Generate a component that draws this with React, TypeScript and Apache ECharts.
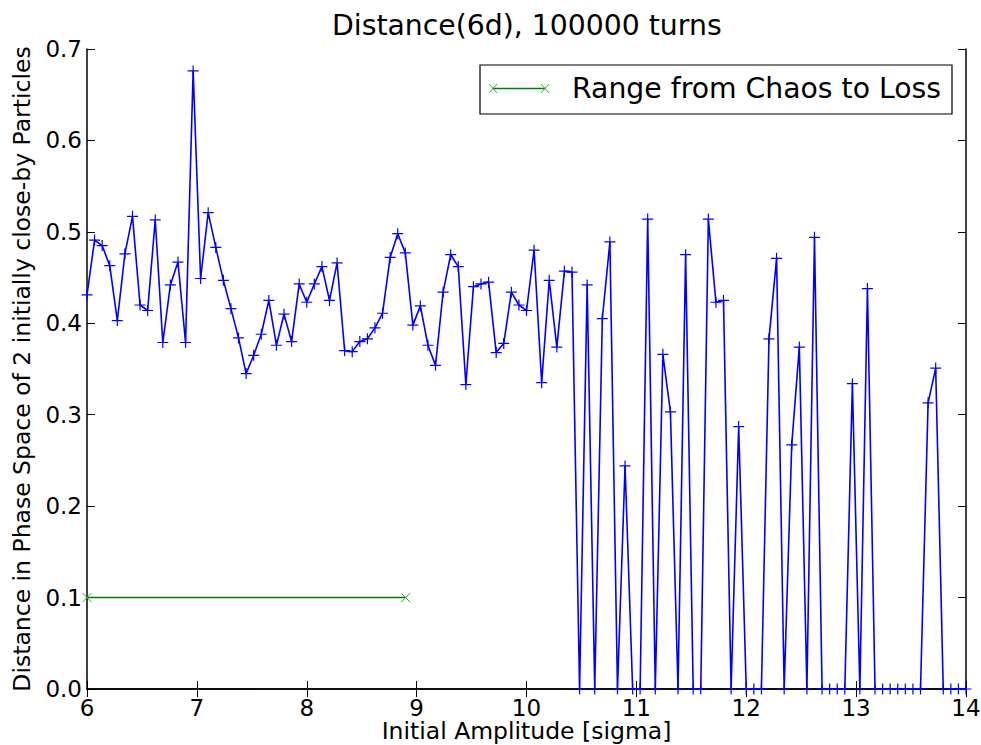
import React, { useEffect, useRef } from "react";
import * as echarts from "echarts";

const TITLE = "Distance(6d), 100000 turns";
const X_NAME = "Initial Amplitude [sigma]";
const Y_NAME = "Distance in Phase Space of 2 initially close-by Particles";
const LEGEND_LABEL = "Range from Chaos to Loss";

const amplitudes = [
  6.0, 6.069, 6.138, 6.207, 6.276, 6.345, 6.414, 6.483, 6.552, 6.621,
  6.69, 6.759, 6.828, 6.897, 6.966, 7.034, 7.103, 7.172, 7.241, 7.31,
  7.379, 7.448, 7.517, 7.586, 7.655, 7.724, 7.793, 7.862, 7.931, 8.0,
  8.069, 8.138, 8.207, 8.276, 8.345, 8.414, 8.483, 8.552, 8.621, 8.69,
  8.759, 8.828, 8.897, 8.966, 9.034, 9.103, 9.172, 9.241, 9.31, 9.379,
  9.448, 9.517, 9.586, 9.655, 9.724, 9.793, 9.862, 9.931, 10.0, 10.069,
  10.138, 10.207, 10.276, 10.345, 10.414, 10.483, 10.552, 10.621, 10.69, 10.759,
  10.828, 10.897, 10.966, 11.034, 11.103, 11.172, 11.241, 11.31, 11.379, 11.448,
  11.517, 11.586, 11.655, 11.724, 11.793, 11.862, 11.931, 12.0, 12.069, 12.138,
  12.207, 12.276, 12.345, 12.414, 12.483, 12.552, 12.621, 12.69, 12.759, 12.828,
  12.897, 12.966, 13.034, 13.103, 13.172, 13.241, 13.31, 13.379, 13.448, 13.517,
  13.586, 13.655, 13.724, 13.793, 13.862, 13.931, 14.0,
];

const distances = [
  0.431, 0.491, 0.485, 0.463, 0.403, 0.476, 0.517, 0.42, 0.414, 0.513,
  0.379, 0.442, 0.467, 0.379, 0.676, 0.449, 0.521, 0.483, 0.447, 0.416,
  0.384, 0.345, 0.365, 0.388, 0.425, 0.376, 0.41, 0.38, 0.443, 0.423,
  0.443, 0.462, 0.425, 0.466, 0.37, 0.369, 0.38, 0.383, 0.395, 0.411,
  0.472, 0.498, 0.477, 0.398, 0.419, 0.376, 0.354, 0.434, 0.475, 0.462,
  0.333, 0.44, 0.443, 0.445, 0.368, 0.378, 0.434, 0.42, 0.414, 0.48,
  0.335, 0.447, 0.374, 0.457, 0.456, 0.0, 0.442, 0.0, 0.405, 0.489,
  0.0, 0.244, 0.0, 0.0, 0.514, 0.0, 0.366, 0.303, 0.0, 0.475,
  0.0, 0.0, 0.514, 0.423, 0.425, 0.0, 0.287, 0.0, 0.0, 0.0,
  0.383, 0.471, 0.0, 0.267, 0.374, 0.0, 0.494, 0.0, 0.0, 0.0,
  0.0, 0.334, 0.0, 0.438, 0.0, 0.0, 0.0, 0.0, 0.0, 0.0,
  0.0, 0.313, 0.351, 0.0, 0.0, 0.0, 0.0,
];

const rangeX = [6.0, 8.9];
const rangeY = [0.1, 0.1];

const FONT = "DejaVu Sans";
const PLUS = "path://M0,5L10,5M5,0L5,10";
const CROSS = "path://M0,0L10,10M0,10L10,0";

export default function App() {
  const ref = useRef<HTMLDivElement>(null);

  useEffect(() => {
    if (!ref.current) return;
    const chart = echarts.init(ref.current, undefined, { renderer: "svg" });

    const axisLine = { show: true, lineStyle: { color: "#000", width: 1.5 } };
    const axisTick = { show: true, inside: true, length: 8, lineStyle: { color: "#000", width: 1 } };

    const option: any = {
      animation: false,
      backgroundColor: "#fff",
      title: {
        text: TITLE,
        left: 332,
        top: 11,
        padding: 0,
        textStyle: { fontFamily: FONT, fontSize: 28.3, fontWeight: "normal", color: "#000" },
      },
      grid: {
        left: 87,
        right: 15,
        top: 49,
        bottom: 56,
        containLabel: false,
        outerBoundsMode: "none",
      },
      xAxis: [
        {
          type: "value",
          min: 6,
          max: 14,
          interval: 1,
          axisLine,
          axisTick,
          splitLine: { show: false },
          axisLabel: { color: "#000", fontFamily: FONT, fontSize: 23, margin: 7 },
          name: X_NAME,
          nameLocation: "middle",
          nameGap: 30,
          nameMoveOverlap: false,
          nameTextStyle: { color: "#000", fontFamily: FONT, fontSize: 23.5 },
        },
        {
          type: "value",
          position: "top",
          min: 6,
          max: 14,
          interval: 1,
          axisLine,
          axisTick,
          splitLine: { show: false },
          axisLabel: { show: false },
        },
      ],
      yAxis: [
        {
          type: "value",
          min: 0,
          max: 0.7,
          interval: 0.1,
          axisLine,
          axisTick,
          splitLine: { show: false },
          axisLabel: {
            color: "#000",
            fontFamily: FONT,
            fontSize: 23,
            margin: 5,
            formatter: (v: number) => v.toFixed(1),
          },
          name: Y_NAME,
          nameLocation: "middle",
          nameRotate: 90,
          nameGap: 53,
          nameMoveOverlap: false,
          nameTextStyle: { color: "#000", fontFamily: FONT, fontSize: 23.5 },
        },
        {
          type: "value",
          position: "right",
          min: 0,
          max: 0.7,
          interval: 0.1,
          axisLine,
          axisTick,
          splitLine: { show: false },
          axisLabel: { show: false },
        },
      ],
      series: [
        {
          type: "line",
          name: "distance",
          xAxisIndex: 0,
          yAxisIndex: 0,
          data: amplitudes.map((x, i) => [x, distances[i]]),
          symbol: PLUS,
          symbolSize: 11,
          showAllSymbol: true,
          clip: true,
          lineStyle: { color: "#0000ff", width: 1.6 },
          itemStyle: { color: "#0000ff", borderColor: "#0000ff", borderWidth: 1.2 },
          z: 3,
        },
        {
          type: "line",
          name: LEGEND_LABEL,
          xAxisIndex: 0,
          yAxisIndex: 0,
          data: rangeX.map((x, i) => [x, rangeY[i]]),
          symbol: CROSS,
          symbolSize: 9,
          showAllSymbol: true,
          lineStyle: { color: "#008000", width: 1.6 },
          itemStyle: { color: "#2ca02c", borderColor: "#3aa33a", borderWidth: 1 },
          z: 2,
        },
      ],
      graphic: [
        {
          type: "group",
          z: 100,
          children: [
            {
              type: "rect",
              shape: { x: 480, y: 65, width: 472, height: 49 },
              style: { fill: "#fff", stroke: "#000", lineWidth: 1.2 },
            },
            {
              type: "line",
              shape: { x1: 493, y1: 88.5, x2: 545, y2: 88.5 },
              style: { stroke: "#008000", lineWidth: 1.6 },
            },
            { type: "line", shape: { x1: 489, y1: 84, x2: 497, y2: 93 }, style: { stroke: "#3aa33a", lineWidth: 1 } },
            { type: "line", shape: { x1: 489, y1: 93, x2: 497, y2: 84 }, style: { stroke: "#3aa33a", lineWidth: 1 } },
            { type: "line", shape: { x1: 541, y1: 84, x2: 549, y2: 93 }, style: { stroke: "#3aa33a", lineWidth: 1 } },
            { type: "line", shape: { x1: 541, y1: 93, x2: 549, y2: 84 }, style: { stroke: "#3aa33a", lineWidth: 1 } },
            {
              type: "text",
              x: 572,
              y: 88,
              style: {
                text: LEGEND_LABEL,
                fontFamily: FONT,
                fontSize: 28.3,
                fill: "#000",
                verticalAlign: "middle",
                textAlign: "left",
              },
            },
          ],
        },
      ],
    };

    chart.setOption(option);
    return () => chart.dispose();
  }, []);

  return (
    <div
      ref={ref}
      style={{ position: "fixed", left: 0, top: 0, width: 981, height: 745, background: "#fff" }}
    />
  );
}
